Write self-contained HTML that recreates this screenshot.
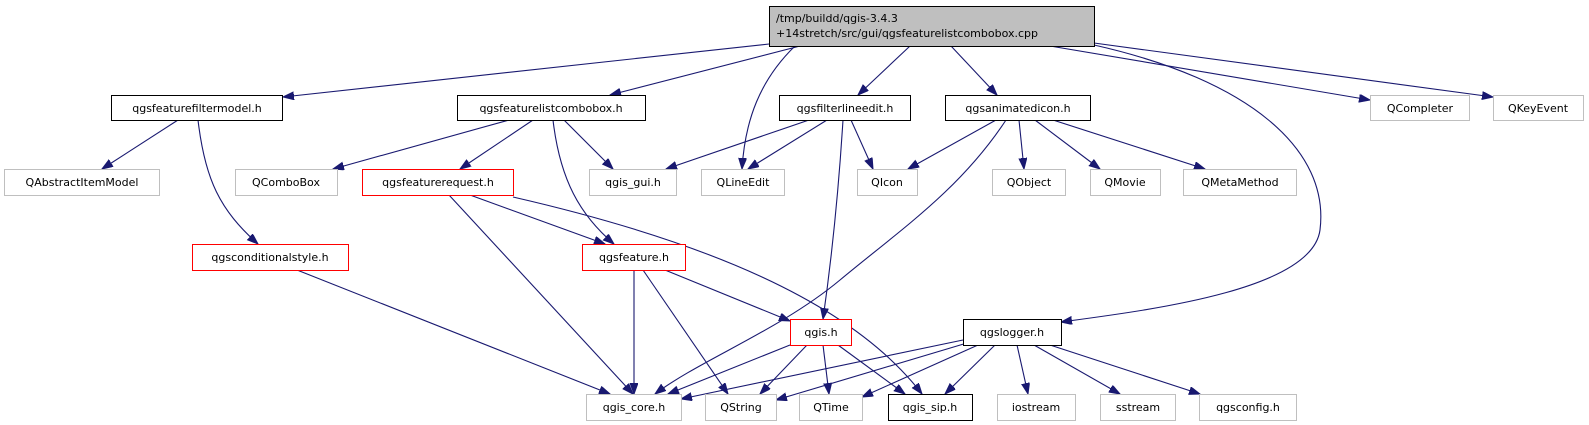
<!DOCTYPE html>
<html><head><meta charset="utf-8"><style>
html,body{margin:0;padding:0;background:#fff;}
svg{display:block;}
text{font-family:"DejaVu Sans","Liberation Sans",sans-serif;font-size:11px;fill:#000;}
</style></head><body>
<svg width="1589" height="425" viewBox="0 0 1589 425" xmlns="http://www.w3.org/2000/svg">
<defs>
<marker id="a" markerUnits="userSpaceOnUse" markerWidth="12" markerHeight="10" refX="11" refY="4" orient="auto">
<path d="M0,0 L11,4 L0,8 Z" fill="#191970" stroke="#191970"/>
</marker>
</defs>
<g fill="none" stroke="#191970" stroke-width="1.1" marker-end="url(#a)">
<path d="M769,44 L283,97"/>
<path d="M800,46 L610,95"/>
<path d="M795,46 C760,80 745,120 742,169"/>
<path d="M910,46 L858,95"/>
<path d="M951,46 L997,95"/>
<path d="M1094,45 C1250,80 1330,150 1320,230 C1312,290 1150,310 1061,322"/>
<path d="M1050,46 L1370,100"/>
<path d="M1094,43 L1493,97"/>
<path d="M178,120 L102,169"/>
<path d="M198,120 C205,180 220,210 258,244"/>
<path d="M509,120 L333,169"/>
<path d="M533,120 L460,169"/>
<path d="M564,120 L613,169"/>
<path d="M553,120 C560,180 580,215 614,244"/>
<path d="M809,120 L666,169"/>
<path d="M827,120 L748,169"/>
<path d="M851,120 L873,169"/>
<path d="M843,120 C838,200 830,270 823,319"/>
<path d="M996,120 L908,169"/>
<path d="M1006,120 C960,190 900,230 840,280 S700,360 655,394"/>
<path d="M1019,120 L1024,169"/>
<path d="M1035,120 L1100,169"/>
<path d="M1053,120 L1205,169"/>
<path d="M470,195 L605,244"/>
<path d="M449,195 L633,394"/>
<path d="M513,197 C700,240 850,300 922,394"/>
<path d="M297,270 L610,394"/>
<path d="M665,270 L790,321"/>
<path d="M634,270 L634,394"/>
<path d="M643,270 L728,394"/>
<path d="M790,345 L668,394"/>
<path d="M807,345 L760,394"/>
<path d="M823,345 L829,394"/>
<path d="M838,345 L905,394"/>
<path d="M963,340 L681,399"/>
<path d="M967,343 L776,400"/>
<path d="M978,345 L862,397"/>
<path d="M995,345 L945,394"/>
<path d="M1017,345 L1028,394"/>
<path d="M1034,345 L1120,394"/>
<path d="M1050,345 L1200,394"/>
</g>
<rect x="769.5" y="6.5" width="325" height="40" fill="#bfbfbf" stroke="#000"/>
<text x="776" y="22">/tmp/buildd/qgis-3.4.3</text>
<text x="776" y="37">+14stretch/src/gui/qgsfeaturelistcombobox.cpp</text>
<g stroke-width="1">
<rect x="111.5" y="95.5" width="171" height="25" fill="#fff" stroke="#000"/>
<rect x="457.5" y="95.5" width="188" height="25" fill="#fff" stroke="#000"/>
<rect x="779.5" y="95.5" width="131" height="25" fill="#fff" stroke="#000"/>
<rect x="945.5" y="95.5" width="145" height="25" fill="#fff" stroke="#000"/>
<rect x="963.5" y="319.5" width="98" height="26" fill="#fff" stroke="#000"/>
<rect x="888.5" y="394.5" width="84" height="26" fill="#fff" stroke="#000"/>
<rect x="362.5" y="169.5" width="151" height="26" fill="#fff" stroke="#f00"/>
<rect x="192.5" y="244.5" width="156" height="26" fill="#fff" stroke="#f00"/>
<rect x="582.5" y="244.5" width="103" height="26" fill="#fff" stroke="#f00"/>
<rect x="790.5" y="319.5" width="61" height="26" fill="#fff" stroke="#f00"/>
<g fill="#fff" stroke="#bfbfbf">
<rect x="1370.5" y="95.5" width="99" height="25"/>
<rect x="1493.5" y="95.5" width="90" height="25"/>
<rect x="4.5" y="169.5" width="155" height="26"/>
<rect x="235.5" y="169.5" width="102" height="26"/>
<rect x="589.5" y="169.5" width="87" height="26"/>
<rect x="701.5" y="169.5" width="83" height="26"/>
<rect x="857.5" y="169.5" width="60" height="26"/>
<rect x="992.5" y="169.5" width="73" height="26"/>
<rect x="1090.5" y="169.5" width="70" height="26"/>
<rect x="1183.5" y="169.5" width="113" height="26"/>
<rect x="586.5" y="394.5" width="95" height="26"/>
<rect x="705.5" y="394.5" width="71" height="26"/>
<rect x="799.5" y="394.5" width="63" height="26"/>
<rect x="997.5" y="394.5" width="78" height="26"/>
<rect x="1100.5" y="394.5" width="75" height="26"/>
<rect x="1199.5" y="394.5" width="97" height="26"/>
</g>
</g>
<g text-anchor="middle">
<text x="197" y="112">qgsfeaturefiltermodel.h</text>
<text x="551" y="112">qgsfeaturelistcombobox.h</text>
<text x="845" y="112">qgsfilterlineedit.h</text>
<text x="1018" y="112">qgsanimatedicon.h</text>
<text x="1420" y="112">QCompleter</text>
<text x="1538" y="112">QKeyEvent</text>
<text x="82" y="186">QAbstractItemModel</text>
<text x="286" y="186">QComboBox</text>
<text x="438" y="186">qgsfeaturerequest.h</text>
<text x="633" y="186">qgis_gui.h</text>
<text x="743" y="186">QLineEdit</text>
<text x="887" y="186">QIcon</text>
<text x="1029" y="186">QObject</text>
<text x="1125" y="186">QMovie</text>
<text x="1240" y="186">QMetaMethod</text>
<text x="270" y="261">qgsconditionalstyle.h</text>
<text x="634" y="261">qgsfeature.h</text>
<text x="821" y="336">qgis.h</text>
<text x="1012" y="336">qgslogger.h</text>
<text x="634" y="411">qgis_core.h</text>
<text x="741" y="411">QString</text>
<text x="831" y="411">QTime</text>
<text x="930" y="411">qgis_sip.h</text>
<text x="1036" y="411">iostream</text>
<text x="1138" y="411">sstream</text>
<text x="1248" y="411">qgsconfig.h</text>
</g>
</svg>
</body></html>
